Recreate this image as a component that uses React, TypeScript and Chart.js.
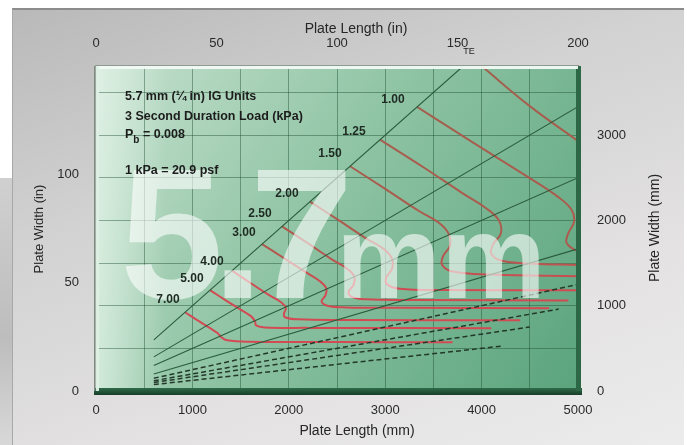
import React, { useEffect, useRef } from 'react';
import { Chart, registerables } from 'chart.js';

Chart.register(...registerables);

// ---- axis ranges / ticks ----
const lengthMaxMm = 5000;
const lengthMaxIn = 200;
const widthMaxMm = 3810;
const widthMaxIn = 150;
const widthTicksMm = [0, 1000, 2000, 3000];
const widthGridMm = [0, 500, 1000, 1500, 2000, 2500, 3000, 3500];
const widthTicksIn = [0, 50, 100];

// ---- load contour labels (kPa) and where they sit (mm) ----
const loadLabels = ['1.00', '1.25', '1.50', '2.00', '2.50', '3.00', '4.00', '5.00', '7.00'];
const loadLabelLengthMm = [3081, 2676, 2427, 1981, 1701, 1535, 1203, 996, 747];
const loadLabelWidthMm = [3411, 3036, 2778, 2309, 2075, 1852, 1512, 1313, 1067];

// ---- load contours (plate length mm, plate width mm) ----
const load075L = [4000, 4500, 5000];
const load075W = [3810, 3340, 2930];
const load100L = [3330, 3900, 4450, 4800, 4930, 4960, 4900, 4880, 4950, 5000];
const load100W = [3330, 2920, 2530, 2270, 2130, 1990, 1850, 1740, 1665, 1640];
const load125L = [2946, 3400, 3800, 4050, 4180, 4200, 4120, 4100, 4200, 4500, 5000];
const load125W = [2946, 2620, 2320, 2140, 2000, 1850, 1720, 1610, 1530, 1495, 1477];
const load150L = [2635, 3000, 3350, 3560, 3660, 3670, 3600, 3590, 3700, 4100, 5000];
const load150W = [2635, 2370, 2110, 1970, 1840, 1700, 1580, 1480, 1400, 1365, 1345];
const load200L = [2220, 2520, 2800, 2990, 3070, 3070, 3010, 3020, 3150, 3600, 5000];
const load200W = [2220, 2000, 1790, 1660, 1550, 1430, 1330, 1250, 1200, 1185, 1180];
const load250L = [1929, 2200, 2450, 2610, 2680, 2670, 2620, 2660, 2800, 3300, 4900];
const load250W = [1929, 1730, 1540, 1430, 1340, 1240, 1160, 1100, 1075, 1068, 1062];
const load300L = [1722, 1960, 2180, 2330, 2390, 2380, 2340, 2400, 2600, 3200, 4700];
const load300W = [1722, 1550, 1390, 1280, 1200, 1120, 1050, 1000, 980, 975, 970];
const load400L = [1411, 1610, 1800, 1920, 1970, 1950, 1960, 2100, 2600, 4400];
const load400W = [1411, 1260, 1120, 1040, 970, 910, 865, 840, 833, 828];
const load500L = [1183, 1350, 1500, 1610, 1650, 1660, 1750, 2200, 4100];
const load500W = [1183, 1060, 955, 875, 815, 770, 745, 740, 736];
const load700L = [923, 1050, 1170, 1260, 1300, 1360, 1600, 2500, 3700];
const load700W = [923, 830, 745, 680, 630, 595, 578, 574, 572];

// ---- aspect ratio guide lines (mm) ----
const ar1L = [600, 3810];
const ar1W = [600, 3810];
const ar15L = [600, 5000];
const ar15W = [400, 3333];
const ar2L = [600, 5000];
const ar2W = [300, 2500];
const ar3L = [600, 5000];
const ar3W = [200, 1667];
const ar4L = [600, 5000];
const ar4W = [150, 1250];
const ar5L = [600, 4800];
const ar5W = [120, 960];
const ar6L = [600, 4500];
const ar6W = [100, 750];
const ar8L = [600, 4200];
const ar8W = [75, 525];

const pts = (L: number[], W: number[]) => L.map((l, i) => ({ x: l, y: W[i] }));

const FONT = '"Liberation Sans", Arial, sans-serif';

const redStroke = (context: any) => {
  const chart = context.chart;
  const area = chart.chartArea;
  if (!area) return '#b0584c';
  const g = chart.ctx.createLinearGradient(0, area.top, 0, area.bottom);
  g.addColorStop(0, '#a2604e');
  g.addColorStop(0.55, '#ad5a4e');
  g.addColorStop(0.68, '#d04a52');
  g.addColorStop(1, '#d84a56');
  return g;
};

const curve = (L: number[], W: number[]) => ({
  data: pts(L, W),
  showLine: true,
  borderColor: redStroke,
  borderWidth: 2,
  pointRadius: 0,
  tension: 0.4,
  xAxisID: 'x',
  yAxisID: 'y',
});

const guide = (L: number[], W: number[], dashed: boolean) => ({
  data: pts(L, W),
  showLine: true,
  borderColor: dashed ? '#24382a' : '#2a5c3c',
  borderWidth: dashed ? 1.5 : 1.1,
  borderDash: dashed ? [5, 3] : [],
  pointRadius: 0,
  tension: 0,
  xAxisID: 'x',
  yAxisID: 'y',
});

const decorPlugin = {
  id: 'decor',
  beforeDraw(chart: any) {
    const { ctx, chartArea: a } = chart;
    ctx.save();
    const g = ctx.createLinearGradient(a.left, a.top, a.right, a.bottom);
    g.addColorStop(0, '#c6e1cf');
    g.addColorStop(0.45, '#8fc4a4');
    g.addColorStop(1, '#5aa47d');
    ctx.fillStyle = g;
    ctx.fillRect(a.left, a.top, a.width, a.height);
    const g2 = ctx.createLinearGradient(a.left, 0, a.left + 70, 0);
    g2.addColorStop(0, 'rgba(232,246,236,0.7)');
    g2.addColorStop(1, 'rgba(232,246,236,0)');
    ctx.fillStyle = g2;
    ctx.fillRect(a.left, a.top, 70, a.height);
    ctx.restore();
  },
  afterDatasetsDraw(chart: any) {
    const { ctx, chartArea: a } = chart;
    ctx.save();
    ctx.beginPath();
    ctx.rect(a.left, a.top, a.width, a.height);
    ctx.clip();
    ctx.fillStyle = 'rgba(255,255,255,0.6)';
    ctx.textBaseline = 'alphabetic';
    ctx.textAlign = 'left';
    ctx.font = `bold 186px ${FONT}`;
    ctx.fillText('5', 120, 298);
    ctx.fillText('.', 212, 298);
    ctx.fillText('7', 250, 298);
    ctx.font = `bold 118px ${FONT}`;
    ctx.fillText('mm', 336, 298);
    ctx.restore();
  },
  afterDraw(chart: any) {
    const { ctx, chartArea: a, scales } = chart;
    const sx = scales.x;
    const sy = scales.y;
    ctx.save();
    // bevel frame
    const gb = ctx.createLinearGradient(0, a.bottom - 3, 0, a.bottom + 5);
    gb.addColorStop(0, '#2f6b49');
    gb.addColorStop(1, '#143824');
    ctx.fillStyle = gb;
    ctx.fillRect(a.left - 2, a.bottom - 3, a.width + 6, 7);
    ctx.fillStyle = '#2c6846';
    ctx.fillRect(a.right - 2, a.top, 5, a.height);
    ctx.fillStyle = 'rgba(242,250,245,0.95)';
    ctx.fillRect(a.left, a.top, a.width, 3);
    ctx.fillStyle = '#8e9a92';
    ctx.fillRect(a.left - 1, a.top - 1, a.width + 2, 1);
    ctx.fillStyle = 'rgba(222,240,228,0.95)';
    ctx.fillRect(a.left, a.top, 3, a.height);
    ctx.fillStyle = '#7c8a80';
    ctx.fillRect(a.left - 2, a.top, 1.5, a.height);

    // contour labels
    ctx.fillStyle = '#1e2a22';
    ctx.font = `bold 12px ${FONT}`;
    ctx.textAlign = 'center';
    ctx.textBaseline = 'middle';
    loadLabels.forEach((t, i) => {
      ctx.fillText(t, sx.getPixelForValue(loadLabelLengthMm[i]), sy.getPixelForValue(loadLabelWidthMm[i]));
    });

    // info block
    ctx.textAlign = 'left';
    ctx.textBaseline = 'middle';
    ctx.fillStyle = '#1c1c1c';
    ctx.font = `bold 12.5px ${FONT}`;
    ctx.fillText('5.7 mm (¼ in) IG Units', 125, 97);
    ctx.fillText('3 Second Duration Load (kPa)', 125, 117);
    ctx.fillText('P', 125, 135);
    const pw = ctx.measureText('P').width;
    ctx.font = `bold 10px ${FONT}`;
    ctx.fillText('b', 125 + pw, 140);
    const bw = ctx.measureText('b').width;
    ctx.font = `bold 12.5px ${FONT}`;
    ctx.fillText(' = 0.008', 125 + pw + bw, 135);
    ctx.fillText('1 kPa = 20.9 psf', 125, 171);

    // axis titles
    ctx.fillStyle = '#262626';
    ctx.font = `14px ${FONT}`;
    ctx.textAlign = 'center';
    ctx.fillText('Plate Length (in)', 356, 29);
    ctx.fillText('Plate Length (mm)', 357, 431);
    ctx.font = `9px ${FONT}`;
    ctx.fillText('TE', 469, 52);
    ctx.font = `13px ${FONT}`;
    ctx.save();
    ctx.translate(39, 229);
    ctx.rotate(-Math.PI / 2);
    ctx.fillText('Plate Width (in)', 0, 0);
    ctx.restore();
    ctx.save();
    ctx.translate(655, 228);
    ctx.rotate(-Math.PI / 2);
    ctx.font = `14px ${FONT}`;
    ctx.fillText('Plate Width (mm)', 0, 0);
    ctx.restore();
    ctx.restore();
  },
};

const tickFont = { family: FONT, size: 13 };
const gridColor = 'rgba(24,72,44,0.42)';
const plain = (v: any) => String(v);

export default function App() {
  const ref = useRef<HTMLCanvasElement | null>(null);

  useEffect(() => {
    if (!ref.current) return;
    const chart = new Chart(ref.current, {
      type: 'scatter',
      data: {
        datasets: [
          guide(ar1L, ar1W, false),
          guide(ar15L, ar15W, false),
          guide(ar2L, ar2W, false),
          guide(ar3L, ar3W, false),
          guide(ar4L, ar4W, true),
          guide(ar5L, ar5W, true),
          guide(ar6L, ar6W, true),
          guide(ar8L, ar8W, true),
          curve(load075L, load075W),
          curve(load100L, load100W),
          curve(load125L, load125W),
          curve(load150L, load150W),
          curve(load200L, load200W),
          curve(load250L, load250W),
          curve(load300L, load300W),
          curve(load400L, load400W),
          curve(load500L, load500W),
          curve(load700L, load700W),
        ] as any,
      },
      options: {
        animation: false,
        responsive: false,
        devicePixelRatio: 1,
        layout: { padding: 0 },
        plugins: { legend: { display: false }, tooltip: { enabled: false }, title: { display: false } },
        scales: {
          x: {
            type: 'linear',
            position: 'bottom',
            min: 0,
            max: lengthMaxMm,
            afterFit: (s: any) => { s.height = 54; },
            border: { display: false },
            grid: { color: gridColor, lineWidth: 1, drawTicks: false },
            ticks: {
              stepSize: 500,
              autoSkip: false,
              maxRotation: 0,
              padding: 12,
              color: '#2a2a2a',
              font: tickFont,
              callback: (v: any) => (Number(v) % 1000 === 0 ? String(v) : ''),
            },
          },
          xTop: {
            type: 'linear',
            position: 'top',
            min: 0,
            max: lengthMaxIn,
            afterFit: (s: any) => { s.height = 66; },
            border: { display: false },
            grid: { display: false, drawTicks: false },
            ticks: { stepSize: 50, maxRotation: 0, padding: 15, color: '#2a2a2a', font: tickFont, callback: plain },
          },
          y: {
            type: 'linear',
            position: 'right',
            min: 0,
            max: widthMaxMm,
            afterFit: (s: any) => { s.width = 109; },
            afterBuildTicks: (s: any) => { s.ticks = widthTicksMm.map((v) => ({ value: v })); },
            border: { display: false },
            grid: { display: false, drawTicks: false },
            ticks: { autoSkip: false, padding: 19, color: '#2a2a2a', font: tickFont, callback: plain },
          },
          yGrid: {
            type: 'linear',
            position: 'right',
            min: 0,
            max: widthMaxMm,
            afterFit: (s: any) => { s.width = 0; },
            afterBuildTicks: (s: any) => { s.ticks = widthGridMm.map((v) => ({ value: v })); },
            border: { display: false },
            grid: { color: gridColor, lineWidth: 1, drawTicks: false },
            ticks: { display: false },
          },
          yIn: {
            type: 'linear',
            position: 'left',
            min: 0,
            max: widthMaxIn,
            afterFit: (s: any) => { s.width = 96; },
            afterBuildTicks: (s: any) => { s.ticks = widthTicksIn.map((v) => ({ value: v })); },
            border: { display: false },
            grid: { display: false, drawTicks: false },
            ticks: { autoSkip: false, padding: 17, color: '#2a2a2a', font: tickFont, callback: plain },
          },
        },
      } as any,
      plugins: [decorPlugin],
    });
    return () => chart.destroy();
  }, []);

  return (
    <div style={{ position: 'fixed', left: 0, top: 0, width: 687, height: 445, background: '#ffffff', overflow: 'hidden' }}>
      <div style={{ position: 'absolute', left: 0, top: 178, width: 14, height: 267, background: 'linear-gradient(180deg, #d0d0d0 0%, #bdbdbd 60%, #d8d8d8 100%)' }} />
      <div
        style={{
          position: 'absolute',
          left: 12,
          top: 8,
          width: 671,
          height: 440,
          borderTop: '2px solid #8c8c8c',
          borderLeft: '1px solid #a8a8a8',
          background: 'linear-gradient(160deg, #b9b9b9 0%, #d2d2d2 35%, #e4e2e2 70%, #ececec 100%)',
        }}
      />
      <canvas ref={ref} width={687} height={445} style={{ position: 'absolute', left: 0, top: 0, display: 'block' }} />
    </div>
  );
}
